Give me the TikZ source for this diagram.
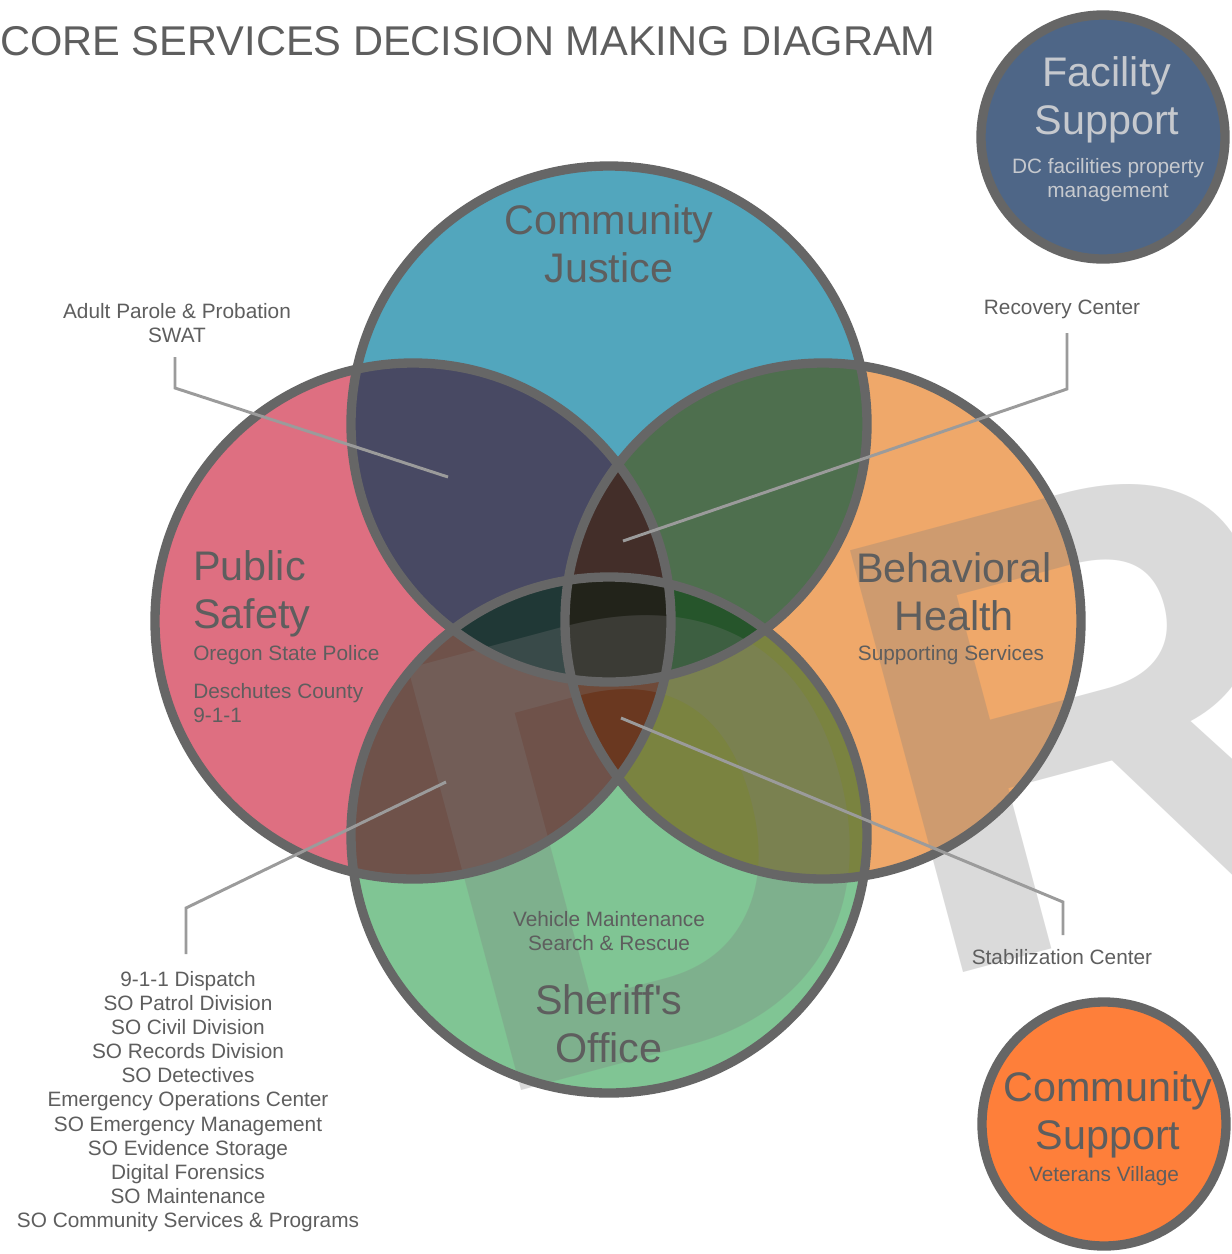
\documentclass[tikz,border=0pt]{standalone}
\usepackage{fontspec}
\setmainfont{Liberation Sans}

\definecolor{cjblue}{HTML}{52A6BD}
\definecolor{pspink}{HTML}{DE6F81}
\definecolor{bhorange}{HTML}{EFA86A}
\definecolor{sogreen}{HTML}{80C594}
\definecolor{cjps}{HTML}{484963}
\definecolor{cjbh}{HTML}{4E6F4E}
\definecolor{psso}{HTML}{6F524A}
\definecolor{bhso}{HTML}{7A8340}
\definecolor{cjpsbh}{HTML}{432E29}
\definecolor{psbhso}{HTML}{6A3820}
\definecolor{cjpsso}{HTML}{203836}
\definecolor{cjbhso}{HTML}{26552B}
\definecolor{allfour}{HTML}{22231A}
\definecolor{facblue}{HTML}{4E6687}
\definecolor{comorange}{HTML}{FE7F3A}
\definecolor{ringgray}{HTML}{666666}
\definecolor{leadgray}{HTML}{9B9B9B}
\definecolor{txtgray}{HTML}{5E5E5E}
\definecolor{faclight}{HTML}{C6C9CE}
\definecolor{wmgray}{HTML}{7C7C7C}

\newcommand{\bigtxt}{\fontsize{31}{36}\selectfont}
\newcommand{\smalltxt}{\fontsize{15.6}{18.1}\selectfont}
\def\rbig{193.5pt}
\def\rsmall{91.5pt}

\begin{document}
\begin{tikzpicture}[x=0.75pt,y=-0.75pt,
    ring/.style={draw=ringgray, line width=7pt},
    leader/.style={draw=leadgray, line width=2.2pt},
    bigtext/.style={font=\bigtxt, text=txtgray, align=center, inner sep=0pt},
    smalltext/.style={font=\smalltxt, text=txtgray, align=center, inner sep=0pt}]
    \fill[white] (0,0) rectangle (1232,1254);
    \useasboundingbox (0,0) rectangle (1232,1254);
    % circle centres
    \coordinate (cj) at (609,424);
    \coordinate (ps) at (413,621);
    \coordinate (bh) at (823,621);
    \coordinate (so) at (609,835);
    \coordinate (fs) at (1103,137);
    \coordinate (cs) at (1104,1124);
    % base fills
    \fill[cjblue] (cj) circle (\rbig);
    \fill[pspink] (ps) circle (\rbig);
    \fill[bhorange] (bh) circle (\rbig);
    \fill[sogreen] (so) circle (\rbig);
    % two-way overlaps
    \begin{scope}\clip (cj) circle (\rbig); \fill[cjps] (ps) circle (\rbig); \end{scope}
    \begin{scope}\clip (cj) circle (\rbig); \fill[cjbh] (bh) circle (\rbig); \end{scope}
    \begin{scope}\clip (so) circle (\rbig); \fill[psso] (ps) circle (\rbig); \end{scope}
    \begin{scope}\clip (so) circle (\rbig); \fill[bhso] (bh) circle (\rbig); \end{scope}
    % three-way overlaps
    \begin{scope}\clip (cj) circle (\rbig); \clip (ps) circle (\rbig); \fill[cjpsbh] (bh) circle (\rbig); \end{scope}
    \begin{scope}\clip (so) circle (\rbig); \clip (ps) circle (\rbig); \fill[psbhso] (bh) circle (\rbig); \end{scope}
    \begin{scope}\clip (cj) circle (\rbig); \clip (ps) circle (\rbig); \fill[cjpsso] (so) circle (\rbig); \end{scope}
    \begin{scope}\clip (cj) circle (\rbig); \clip (bh) circle (\rbig); \fill[cjbhso] (so) circle (\rbig); \end{scope}
    % all four
    \begin{scope}\clip (cj) circle (\rbig); \clip (ps) circle (\rbig); \clip (bh) circle (\rbig); \fill[allfour] (so) circle (\rbig); \end{scope}
    % watermark
    \begin{scope}
        \clip (0,0) rectangle (1232,1254);
        \node[anchor=base west, inner sep=0pt, rotate=15, text=wmgray, text opacity=0.28,
              font=\fontsize{476}{476}\selectfont\bfseries] (wm) at (480,1102) {DR};
    \end{scope}
    % outlines
    \foreach \c in {cj,ps,bh,so} \draw[ring] (\c) circle (\rbig);
    \draw[ring, fill=facblue] (fs) circle (\rsmall);
    \draw[ring, fill=comorange] (cs) circle (\rsmall);
    % leader lines
    \coordinate (appa) at (175,357);
    \coordinate (appb) at (175,388);
    \coordinate (appc) at (448,477);
    \coordinate (rca) at (1067,333);
    \coordinate (rcb) at (1067,389);
    \coordinate (rcc) at (623,541);
    \coordinate (stc) at (621,718);
    \coordinate (stb) at (1063,902);
    \coordinate (sta) at (1063,935);
    \coordinate (lsc) at (446,782);
    \coordinate (lsb) at (186,908);
    \coordinate (lsa) at (186,954);
    \draw[leader] (appa) -- (appb) -- (appc);
    \draw[leader] (rca) -- (rcb) -- (rcc);
    \draw[leader] (stc) -- (stb) -- (sta);
    \draw[leader] (lsc) -- (lsb) -- (lsa);
    % title
    \node[anchor=base west, inner sep=0pt, text=txtgray, font=\fontsize{31.2}{36}\selectfont] (title) at (0,55) {CORE SERVICES DECISION MAKING DIAGRAM};
    % circle texts
    \node[bigtext] (cjlabel) at (609,244) {Community\\Justice};
    \node[bigtext, anchor=west, align=left] (pslabel) at (193,594) {Public\\Safety};
    \node[smalltext, anchor=base west] (osp) at (193,660.5) {Oregon State Police};
    \node[smalltext, anchor=west, align=left] (dc911) at (193,703.4) {Deschutes County\\9-1-1};
    \node[bigtext] (bhlabel) at (954,592) {Behavioral\\Health};
    \node[smalltext, anchor=base] (supserv) at (951,660.5) {Supporting Services};
    \node[smalltext] (vmsr) at (609,931) {Vehicle Maintenance\\Search \& Rescue};
    \node[bigtext] (solabel) at (609,1024) {Sheriff\textquotesingle s\\Office};
    \node[bigtext, text=faclight] (fslabel) at (1107,100) {Facility\\Support};
    \node[smalltext, text=faclight] (fssub) at (1108,180) {DC facilities property\\management};
    \node[bigtext] (cslabel) at (1108,1115) {Community\\Support};
    \node[smalltext, anchor=base] (vv) at (1104,1181.5) {Veterans Village};
    % leader labels
    \node[smalltext] (app) at (177,323) {Adult Parole \& Probation\\SWAT};
    \node[smalltext, anchor=base] (rc) at (1062,314.5) {Recovery Center};
    \node[smalltext, anchor=base] (stab) at (1062,964.5) {Stabilization Center};
    \node[smalltext] (solist) at (188,1101.6) {9-1-1 Dispatch\\SO Patrol Division\\SO Civil Division\\SO Records Division\\SO Detectives\\Emergency Operations Center\\SO Emergency Management\\SO Evidence Storage\\Digital Forensics\\SO Maintenance\\SO Community Services \& Programs};
\end{tikzpicture}
\end{document}
